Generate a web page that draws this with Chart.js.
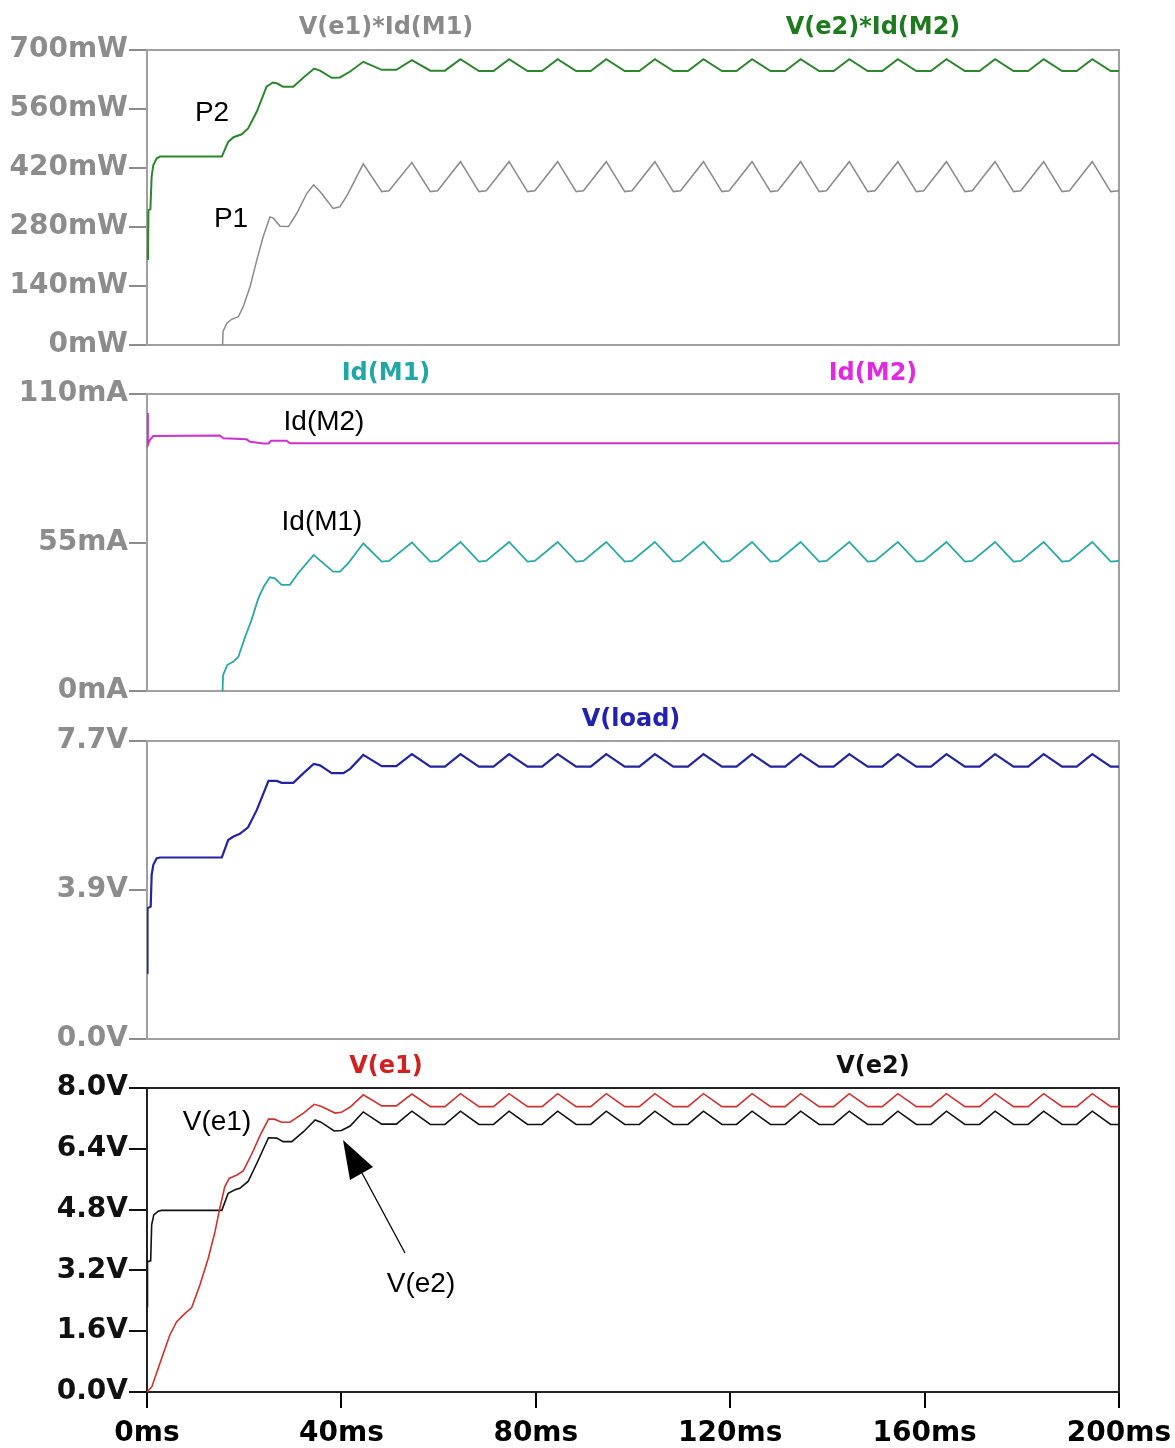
<!DOCTYPE html>
<html>
<head>
<meta charset="utf-8">
<script src="https://cdn.jsdelivr.net/npm/chart.js@4.4.1/dist/chart.umd.min.js"></script>
<style>
    body { margin: 0; width: 1175px; height: 1448px; position: relative; background: #fff; overflow: hidden; }
    .panel { position: absolute; left: 0; width: 1175px; }
    .panel canvas { display: block; }
    .title { position: absolute; transform: translate(-50%, -50%); white-space: nowrap;
        font: bold 24px 'DejaVu Sans', sans-serif; }
    .note { position: absolute; transform: translate(-50%, -50%); white-space: nowrap;
        font: 28px 'Liberation Sans', Arial, sans-serif; color: #000; }
    svg { position: absolute; left: 0; top: 0; }
</style>
</head>
<body>
<div class="panel" style="top:30px;height:335px"><canvas id="power" width="1175" height="335"></canvas></div>
<div class="panel" style="top:374px;height:337px"><canvas id="current" width="1175" height="337"></canvas></div>
<div class="panel" style="top:721px;height:338px"><canvas id="load" width="1175" height="338"></canvas></div>
<div class="panel" style="top:1068px;height:380px"><canvas id="emitter" width="1175" height="380"></canvas></div>

<div class="title" style="left:386px;top:26px;color:#8a8a8a">V(e1)*Id(M1)</div>
<div class="title" style="left:873px;top:26px;color:#1e7a1e">V(e2)*Id(M2)</div>
<div class="title" style="left:386px;top:372px;color:#22a6a6">Id(M1)</div>
<div class="title" style="left:873px;top:372px;color:#e02ae0">Id(M2)</div>
<div class="title" style="left:631px;top:718px;color:#2222b0">V(load)</div>
<div class="title" style="left:386px;top:1065px;color:#d02020">V(e1)</div>
<div class="title" style="left:873px;top:1065px;color:#111">V(e2)</div>

<div class="note" style="left:212px;top:112px">P2</div>
<div class="note" style="left:231px;top:218px">P1</div>
<div class="note" style="left:324px;top:421px">Id(M2)</div>
<div class="note" style="left:322px;top:521px">Id(M1)</div>
<div class="note" style="left:217px;top:1121px">V(e1)</div>
<div class="note" style="left:421px;top:1283px">V(e2)</div>

<svg width="1175" height="1448">
    <line x1="405" y1="1253" x2="362" y2="1173" stroke="#000" stroke-width="1.3"/>
    <polygon points="343,1140 350,1180 373,1167" fill="#000"/>
</svg>

<script>
// tick values and labels
const timeTicks = [0, 40, 80, 120, 160, 200];
const timeTickLabels = ['0ms', '40ms', '80ms', '120ms', '160ms', '200ms'];
const powerTicks = [0, 140, 280, 420, 560, 700];
const powerTickLabels = ['0mW', '140mW', '280mW', '420mW', '560mW', '700mW'];
const currentTicks = [0, 55, 110];
const currentTickLabels = ['0mA', '55mA', '110mA'];
const loadTicks = [0, 3.85, 7.7];
const loadTickLabels = ['0.0V', '3.9V', '7.7V'];
const emitterTicks = [0, 1.6, 3.2, 4.8, 6.4, 8.0];
const emitterTickLabels = ['0.0V', '1.6V', '3.2V', '4.8V', '6.4V', '8.0V'];

// steady state ripple sample times (peak, trough start, trough end)
const rippleFlatMs = [44.5, 48.3, 51.3, 54.5, 58.3, 61.3, 64.5, 68.3, 71.3, 74.5, 78.3, 81.3,
    84.5, 88.3, 91.3, 94.5, 98.3, 101.3, 104.5, 108.3, 111.3, 114.5, 118.3, 121.3,
    124.5, 128.3, 131.3, 134.5, 138.3, 141.3, 144.5, 148.3, 151.3, 154.5, 158.3, 161.3,
    164.5, 168.3, 171.3, 174.5, 178.3, 181.3, 184.5, 188.3, 191.3, 194.5, 198.3, 200];
const rippleSharpMs = [44.5, 48.3, 49.8, 54.5, 58.3, 59.8, 64.5, 68.3, 69.8, 74.5, 78.3, 79.8,
    84.5, 88.3, 89.8, 94.5, 98.3, 99.8, 104.5, 108.3, 109.8, 114.5, 118.3, 119.8,
    124.5, 128.3, 129.8, 134.5, 138.3, 139.8, 144.5, 148.3, 149.8, 154.5, 158.3, 159.8,
    164.5, 168.3, 169.8, 174.5, 178.3, 179.8, 184.5, 188.3, 189.8, 194.5, 198.3, 200];

// P2 = V(e2)*Id(M2), mW
const p2StartMs = [0.2, 0.3, 0.7, 0.95, 1.3, 2.0, 2.7, 15.4, 16.7, 17.8, 19.5, 20.8, 22.6, 24.6, 25.9, 26.7, 28.0, 30.1, 32.2, 34.4, 35.6, 38.0, 39.7, 41.8];
const p2StartMw = [202, 320, 322, 399, 427, 443, 447, 447, 482, 493, 500, 514, 554, 613, 623, 621, 613, 613, 635, 656, 651, 634, 635, 649];
const p2RippleMw = [672, 653, 653, 676, 651, 651, 678, 650, 650, 678, 650, 650,
    678, 650, 650, 678, 650, 650, 678, 650, 650, 678, 650, 650,
    678, 650, 650, 678, 650, 650, 678, 650, 650, 678, 650, 650,
    678, 650, 650, 678, 650, 650, 678, 650, 650, 678, 650, 650];

// P1 = V(e1)*Id(M1), mW
const p1StartMs = [15.55, 15.65, 16.4, 17.4, 18.8, 19.8, 21.2, 22.6, 23.9, 25.3, 26.0, 27.4, 29.1, 30.8, 32.9, 34.3, 35.9, 38.3, 39.7, 41.4];
const p1StartMw = [0, 32, 51, 61, 67, 91, 138, 202, 257, 304, 301, 282, 281, 312, 360, 380, 360, 324, 328, 360];
const p1RippleMw = [430, 364, 366, 433, 364, 366, 435, 364, 366, 435, 364, 366,
    435, 364, 366, 435, 364, 366, 435, 364, 366, 435, 364, 366,
    435, 364, 366, 435, 364, 366, 435, 364, 366, 435, 364, 366,
    435, 364, 366, 435, 364, 366, 435, 364, 366, 435, 364, 366];

// Id(M1), mA
const id1StartMs = [15.55, 15.65, 16.5, 17.8, 18.8, 20.2, 21.5, 22.9, 24.0, 25.3, 26.3, 27.7, 29.4, 31.1, 34.3, 35.9, 38.3, 39.7, 41.4];
const id1StartMa = [0, 5.9, 9.6, 10.9, 12.7, 20.1, 26.3, 34.3, 38.6, 42.1, 41.7, 39.3, 39.3, 43.6, 50.4, 47.9, 44.2, 44.2, 47.3];
const id1RippleMa = [54.7, 47.9, 48.2, 55.0, 47.9, 48.2, 55.2, 47.9, 48.2, 55.2, 47.9, 48.2,
    55.2, 47.9, 48.2, 55.2, 47.9, 48.2, 55.2, 47.9, 48.2, 55.2, 47.9, 48.2,
    55.2, 47.9, 48.2, 55.2, 47.9, 48.2, 55.2, 47.9, 48.2, 55.2, 47.9, 48.2,
    55.2, 47.9, 48.2, 55.2, 47.9, 48.2, 55.2, 47.9, 48.2, 55.2, 47.9, 48.2];

// Id(M2), mA
const id2Ms = [0.1, 0.15, 0.2, 0.6, 1.3, 15.0, 15.7, 20.5, 21.2, 24.0, 25.0, 25.5, 28.7, 29.4, 200];
const id2Ma = [91.0, 103.0, 91.2, 93.0, 94.4, 94.6, 93.6, 93.2, 92.3, 91.7, 91.7, 92.7, 92.7, 91.8, 91.8];

// V(load), V
const loadStartMs = [0.06, 0.1, 0.76, 0.96, 1.3, 2.0, 2.7, 15.4, 16.7, 17.8, 19.1, 20.8, 22.6, 25.0, 26.7, 27.7, 30.1, 32.2, 34.3, 35.6, 38.0, 40.4, 41.8];
const loadStartV = [1.70, 3.38, 3.42, 4.24, 4.50, 4.67, 4.69, 4.69, 5.14, 5.23, 5.30, 5.47, 5.92, 6.67, 6.67, 6.62, 6.62, 6.87, 7.11, 7.07, 6.87, 6.87, 6.98];
const loadRippleV = [7.34, 7.05, 7.05, 7.36, 7.04, 7.04, 7.36, 7.04, 7.04, 7.36, 7.04, 7.04,
    7.36, 7.04, 7.04, 7.36, 7.04, 7.04, 7.36, 7.04, 7.04, 7.36, 7.04, 7.04,
    7.36, 7.04, 7.04, 7.36, 7.04, 7.04, 7.36, 7.04, 7.04, 7.36, 7.04, 7.04,
    7.36, 7.04, 7.04, 7.36, 7.04, 7.04, 7.36, 7.04, 7.04, 7.36, 7.04, 7.04];

// V(e1), V
const e1StartMs = [0, 1.0, 3.0, 4.7, 6.1, 7.5, 9.2, 10.9, 12.6, 14.0, 15.0, 16.0, 16.9, 18.5, 19.8, 21.5, 23.3, 25.0, 26.2, 27.7, 29.4, 32.2, 34.4, 35.8, 38.7, 40.0, 41.8];
const e1StartV = [0, 0.14, 0.88, 1.50, 1.85, 2.03, 2.22, 2.82, 3.52, 4.22, 4.85, 5.40, 5.62, 5.71, 5.82, 6.25, 6.76, 7.18, 7.18, 7.10, 7.10, 7.34, 7.57, 7.52, 7.34, 7.36, 7.50];
const e1RippleV = [7.82, 7.53, 7.53, 7.84, 7.51, 7.51, 7.85, 7.51, 7.51, 7.85, 7.51, 7.51,
    7.85, 7.51, 7.51, 7.85, 7.51, 7.51, 7.85, 7.51, 7.51, 7.85, 7.51, 7.51,
    7.85, 7.51, 7.51, 7.85, 7.51, 7.51, 7.85, 7.51, 7.51, 7.85, 7.51, 7.51,
    7.85, 7.51, 7.51, 7.85, 7.51, 7.51, 7.85, 7.51, 7.51, 7.85, 7.51, 7.51];

// V(e2), V
const e2StartMs = [0.06, 0.1, 0.76, 0.96, 1.4, 2.3, 3.0, 15.4, 16.7, 18.1, 19.1, 20.8, 22.6, 25.0, 26.7, 28.0, 29.8, 32.2, 34.6, 35.8, 38.5, 40.0, 41.8];
const e2StartV = [2.25, 3.43, 3.45, 4.40, 4.66, 4.76, 4.78, 4.78, 5.23, 5.32, 5.36, 5.54, 6.02, 6.69, 6.68, 6.59, 6.59, 6.85, 7.16, 7.10, 6.87, 6.88, 7.00];
const e2RippleV = [7.37, 7.05, 7.05, 7.39, 7.04, 7.04, 7.39, 7.04, 7.04, 7.39, 7.04, 7.04,
    7.39, 7.04, 7.04, 7.39, 7.04, 7.04, 7.39, 7.04, 7.04, 7.39, 7.04, 7.04,
    7.39, 7.04, 7.04, 7.39, 7.04, 7.04, 7.39, 7.04, 7.04, 7.39, 7.04, 7.04,
    7.39, 7.04, 7.04, 7.39, 7.04, 7.04, 7.39, 7.04, 7.04, 7.39, 7.04, 7.04];

function toPoints(ms, vals) {
    return ms.map((t, i) => ({ x: t, y: vals[i] }));
}

const tickFont = { family: "'DejaVu Sans', sans-serif", size: 28, weight: 'bold' };

// draws the box round the plot area
const framePlugin = {
    id: 'frame',
    beforeDatasetsDraw(chart, args, opts) {
        const a = chart.chartArea;
        const ctx = chart.ctx;
        ctx.save();
        ctx.strokeStyle = opts.color;
        ctx.lineWidth = 2;
        ctx.strokeRect(a.left, a.top, a.right - a.left, a.bottom - a.top);
        ctx.restore();
    }
};

function yAxis(ticks, labels, color) {
    return {
        type: 'linear',
        min: ticks[0],
        max: ticks[ticks.length - 1],
        afterBuildTicks: s => { s.ticks = ticks.map(v => ({ value: v })); },
        afterFit: s => { s.width = 147; s.paddingTop = 0; s.paddingBottom = 0; },
        ticks: { color: color, font: tickFont, padding: 1, autoSkip: false, callback: (v, i) => labels[i] },
        grid: { drawOnChartArea: false, color: color, tickLength: 18, lineWidth: 2 },
        border: { display: false }
    };
}

function line(points, color, width) {
    return { data: points, borderColor: color, borderWidth: width, pointRadius: 0, tension: 0, fill: false };
}

function makeChart(id, datasets, yScale, frameColor, showTime) {
    const xScale = showTime ? {
        type: 'linear', min: 0, max: 200,
        afterBuildTicks: s => { s.ticks = timeTicks.map(v => ({ value: v })); },
        afterFit: s => { s.height = 56; s.paddingLeft = 0; s.paddingRight = 0; },
        ticks: { color: '#000', font: tickFont, padding: 9, maxRotation: 0, autoSkip: false, callback: (v, i) => timeTickLabels[i] },
        grid: { drawOnChartArea: false, color: '#000', tickLength: 16, lineWidth: 2 },
        border: { display: false }
    } : { type: 'linear', min: 0, max: 200, display: false };

    return new Chart(document.getElementById(id), {
        type: 'line',
        data: { datasets: datasets },
        options: {
            responsive: false,
            animation: false,
            devicePixelRatio: 1,
            events: [],
            layout: { padding: { top: 20, bottom: showTime ? 0 : 20, left: 0, right: 56 } },
            scales: { x: xScale, y: yScale },
            plugins: { legend: { display: false }, tooltip: { enabled: false }, frame: { color: frameColor } }
        },
        plugins: [framePlugin]
    });
}

makeChart('power', [
    line(toPoints(p1StartMs, p1StartMw).concat(toPoints(rippleSharpMs, p1RippleMw)), '#8a8a8a', 1.5),
    line(toPoints(p2StartMs, p2StartMw).concat(toPoints(rippleFlatMs, p2RippleMw)), '#2d862d', 2)
], yAxis(powerTicks, powerTickLabels, '#8c8c8c'), '#a0a0a0', false);

makeChart('current', [
    line(toPoints(id1StartMs, id1StartMa).concat(toPoints(rippleSharpMs, id1RippleMa)), '#2aa8a4', 1.8),
    line(toPoints(id2Ms, id2Ma), '#cc33cc', 2)
], yAxis(currentTicks, currentTickLabels, '#8c8c8c'), '#a0a0a0', false);

makeChart('load', [
    line(toPoints(loadStartMs, loadStartV).concat(toPoints(rippleFlatMs, loadRippleV)), '#2424a0', 2.2)
], yAxis(loadTicks, loadTickLabels, '#8c8c8c'), '#a0a0a0', false);

makeChart('emitter', [
    line(toPoints(e1StartMs, e1StartV).concat(toPoints(rippleFlatMs, e1RippleV)), '#d03030', 1.6),
    line(toPoints(e2StartMs, e2StartV).concat(toPoints(rippleFlatMs, e2RippleV)), '#111111', 1.6)
], yAxis(emitterTicks, emitterTickLabels, '#111111'), '#222222', true);
</script>
</body>
</html>
